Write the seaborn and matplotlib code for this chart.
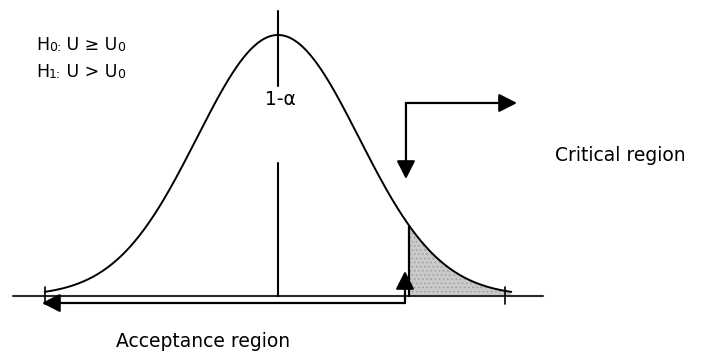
import numpy as np
import pandas as pd
import matplotlib
matplotlib.use("Agg")
import matplotlib.pyplot as plt
import seaborn as sns

# --------------------------
# Data (standard normal, one-sided test)
# --------------------------
mean = 0.0
sd = 1.0
z_crit = 1.62              # start of the critical (shaded) region
z_lo, z_hi = -2.88, 2.88   # ends of the drawn curve
hypotheses = [("H", "0:", " U \u2265 U", "0"),
              ("H", "1:", " U > U", "0")]
center_label = "1-\u03b1"
critical_label = "Critical region"
acceptance_label = "Acceptance region"

z = np.linspace(z_lo, z_hi, 400)
pdf = np.exp(-0.5 * ((z - mean) / sd) ** 2) / (sd * np.sqrt(2 * np.pi))
curve = pd.DataFrame({"z": z, "density": pdf})
pdf_crit = np.exp(-0.5 * ((z_crit - mean) / sd) ** 2) / (sd * np.sqrt(2 * np.pi))

# --------------------------
# Figure
# --------------------------
sns.set_theme(style="white")
plt.rcParams["font.family"] = ["DejaVu Sans"]
plt.rcParams["hatch.linewidth"] = 0.6

fig = plt.figure(figsize=(7.02, 3.56), dpi=100)
ax = fig.add_axes([0, 0, 1, 1])
ax.set_xlim(-3.432, 5.235)
ax.set_ylim(-0.0917, 0.4524)
ax.axis("off")

# baseline
ax.plot([-3.27, 3.27], [0, 0], color="#2a2a2a", lw=1.5)
# little end ticks
for t in (z_lo, 2.80):
    ax.plot([t, t], [-0.012, 0.013], color="black", lw=1.2)

# shaded critical region
tail = curve[curve["z"] >= z_crit]
ax.fill_between(tail["z"], 0, tail["density"], facecolor="#cacaca",
                edgecolor="#9c9c9c", hatch="....", linewidth=0)

# the curve
sns.lineplot(data=curve, x="z", y="density", color="black", lw=1.4, ax=ax)
ax.set_xlabel("")
ax.set_ylabel("")

# mean line (broken around the label)
ax.plot([mean, mean], [0.321, 0.4356], color="black", lw=1.5)
ax.plot([mean, mean], [0, 0.2033], color="black", lw=1.5)
# critical value line
ax.plot([z_crit, z_crit], [0, pdf_crit], color="black", lw=1.6)

arrow = dict(arrowstyle="-|>,head_length=0.55,head_width=0.28",
             mutation_scale=20, color="black", lw=1.6,
             shrinkA=0, shrinkB=0)

# acceptance region arrows
acc_x, acc_y = 1.568, -0.0107
ax.annotate("", xy=(acc_x, 0.0382), xytext=(acc_x, acc_y), arrowprops=arrow)
ax.annotate("", xy=(-2.914, acc_y), xytext=(acc_x, acc_y), arrowprops=arrow)

# critical region arrows
crit_x, crit_y = 1.580, 0.295
ax.annotate("", xy=(crit_x, 0.1788), xytext=(crit_x, crit_y), arrowprops=arrow)
ax.annotate("", xy=(2.951, crit_y), xytext=(crit_x, crit_y), arrowprops=arrow)

# labels
fs = 13.5
ax.text(0.025, 0.2996, center_label, fontsize=fs, color="black",
        ha="center", va="center")
ax.text(3.42, 0.2155, critical_label, fontsize=fs, color="black",
        ha="left", va="center")
ax.text(-0.926, -0.0688, acceptance_label, fontsize=fs, color="black",
        ha="center", va="center")

for (big, small, mid, sub), y in zip(hypotheses, [0.3836, 0.3424]):
    prev = ax.text(-2.988, y, big, fontsize=12.5, color="black",
                   ha="left", va="center")
    for piece, size in [(small, 9), (mid, 12.5), (sub, 9)]:
        prev = ax.annotate(piece, xy=(1, 0), xycoords=prev, color="black",
                           fontsize=size, ha="left", va="bottom")

fig.savefig("out.png", dpi=100)
plt.close(fig)
